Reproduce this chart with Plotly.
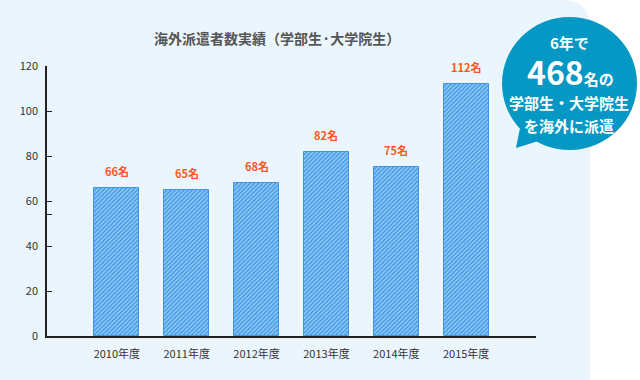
import plotly.graph_objects as go

years = ["2010年度", "2011年度", "2012年度", "2013年度", "2014年度", "2015年度"]
counts = [66, 65, 68, 82, 75, 112]
y_ticks = [0, 20, 40, 54, 60, 80, 100, 120]
y_tick_text = ["0", "20", "40", "", "60", "80", "100", "120"]

W, H = 640, 380
L, R, T, B = 47, 536, 66, 336

def px(x):
    return (x - L) / (R - L)

def py(y):
    return (B - y) / (B - T)

FONT = "Noto Sans CJK JP"
BLUE = "#3F9BEA"
BUBBLE = "#0598C4"

fig = go.Figure()
fig.add_trace(go.Bar(
    x=years, y=counts, width=0.643,
    marker=dict(color=BLUE, line=dict(color="#3D95E6", width=1),
                pattern=dict(shape="/", fgcolor="white", bgcolor=BLUE,
                             size=3, solidity=0.45, fillmode="overlay")),
    hoverinfo="skip",
))

shapes = []
# light panel with rounded top-right corner
r = 28
x0, x1, y0, y1 = px(0), px(590), py(380), py(0)
xr = px(590 - r)
yr = py(r)
shapes.append(dict(
    type="path", xref="paper", yref="paper", layer="below",
    path=f"M {x0} {y0} L {x0} {y1} L {xr} {y1} Q {x1} {y1} {x1} {yr} L {x1} {y0} Z",
    fillcolor="#EBF5FE", line=dict(width=0),
))
# bubble tail
shapes.append(dict(
    type="path", xref="paper", yref="paper",
    path=f"M {px(522)} {py(118)} L {px(516)} {py(148)} L {px(548)} {py(138)} Z",
    fillcolor=BUBBLE, line=dict(width=0),
))
# bubble circle
shapes.append(dict(
    type="circle", xref="paper", yref="paper",
    x0=px(502), x1=px(637), y0=py(150), y1=py(17),
    fillcolor=BUBBLE, line=dict(width=0),
))

annotations = []
for yr_, c in zip(years, counts):
    annotations.append(dict(
        x=yr_, y=c, xref="x", yref="y", text=f"{c}名", showarrow=False,
        xanchor="center", yanchor="bottom", yshift=7,
        font=dict(family=FONT, size=11, color="#FF5520", weight="bold"),
    ))

def note(x, y, text, size, color, weight="bold"):
    annotations.append(dict(
        x=px(x), y=py(y), xref="paper", yref="paper", showarrow=False,
        xanchor="center", yanchor="middle", text=text,
        font=dict(family=FONT, size=size, color=color, weight=weight),
    ))

note(277, 38, "海外派遣者数実績（学部生·大学院生）", 14, "#555555")
note(569, 42, "6年で", 15, "white")
note(570, 71, "<span style='font-size:32px'>468</span>名の", 15, "white")
note(569, 102, "学部生・大学院生", 15, "white")
note(569, 125, "を海外に派遣", 15, "white")

fig.update_layout(
    width=W, height=H,
    margin=dict(l=L, r=W - R, t=T, b=H - B, pad=0),
    paper_bgcolor="white", plot_bgcolor="rgba(0,0,0,0)",
    showlegend=False, shapes=shapes, annotations=annotations,
    bargap=0,
    xaxis=dict(type="category", range=[-1, 6], showgrid=False, zeroline=False,
               showline=True, linecolor="#222222", linewidth=1.5,
               ticks="", ticklabelstandoff=7,
               tickfont=dict(family=FONT, size=11, color="#333333")),
    yaxis=dict(range=[0, 120], tickvals=y_ticks, ticktext=y_tick_text,
               showgrid=False, zeroline=False, showline=True,
               linecolor="#222222", linewidth=1.5, ticks="inside", ticklen=5,
               tickcolor="#222222", tickwidth=1.2, ticklabelstandoff=5,
               tickfont=dict(family=FONT, size=11, color="#333333")),
)

fig.write_html("out.html", config={"displayModeBar": False},
               post_script="document.body.style.margin='0';")
